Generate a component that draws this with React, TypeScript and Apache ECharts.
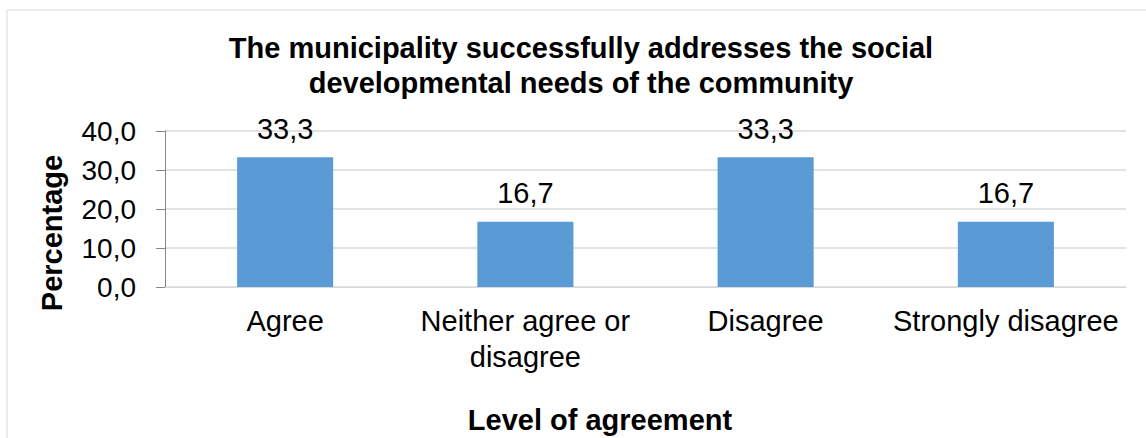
import React, { useEffect, useRef } from "react";
import * as echarts from "echarts";

const categories = ["Agree", "Neither agree or\ndisagree", "Disagree", "Strongly disagree"];
const values = [33.3, 16.7, 33.3, 16.7];
const titleText = "The municipality successfully addresses the social\ndevelopmental needs of the community";
const yAxisTitle = "Percentage";
const xAxisTitle = "Level of agreement";

const FONT = "'Liberation Sans', Arial, sans-serif";
const fmt = (v: number) => v.toFixed(1).replace(".", ",");

export default function App() {
  const ref = useRef<HTMLDivElement>(null);
  useEffect(() => {
    document.body.style.margin = "0";
    const chart = echarts.init(ref.current!, null, { renderer: "svg" });
    chart.setOption({
      animation: false,
      backgroundColor: "#fff",
      grid: { left: 165, right: 20, top: 131, bottom: 151, containLabel: false },
      graphic: [
        {
          type: "rect",
          shape: { x: 7, y: 10, width: 1160, height: 460 },
          style: { fill: "none", stroke: "#d9d9d9", lineWidth: 1 },
          silent: true,
        },
        {
          type: "text",
          x: 581,
          y: 30,
          style: {
            text: titleText,
            font: `bold 29px ${FONT}`,
            fill: "#000",
            align: "center",
            verticalAlign: "top",
            lineHeight: 35,
          },
        },
        {
          type: "text",
          x: 52,
          y: 233,
          rotation: Math.PI / 2,
          style: {
            text: yAxisTitle,
            font: `bold 29px ${FONT}`,
            fill: "#000",
            align: "center",
            verticalAlign: "middle",
          },
        },
        {
          type: "text",
          x: 600,
          y: 405,
          style: {
            text: xAxisTitle,
            font: `bold 29px ${FONT}`,
            fill: "#000",
            align: "center",
            verticalAlign: "top",
          },
        },
      ],
      xAxis: {
        type: "category",
        data: categories,
        axisLine: { show: true, lineStyle: { color: "#d9d9d9", width: 1 } },
        axisTick: { show: false },
        axisLabel: {
          color: "#000",
          fontFamily: FONT,
          fontSize: 29,
          lineHeight: 36,
          margin: 16,
          interval: 0,
        },
      },
      yAxis: {
        type: "value",
        min: 0,
        max: 40,
        interval: 10,
        axisLine: { show: true, lineStyle: { color: "#868686", width: 1 } },
        axisTick: { show: true, inside: false, length: 9, lineStyle: { color: "#868686" } },
        splitLine: { show: true, lineStyle: { color: "#d9d9d9", width: 1.5 } },
        axisLabel: {
          color: "#000",
          fontFamily: FONT,
          fontSize: 28,
          margin: 29,
          formatter: (v: number) => fmt(v),
        },
      },
      series: [
        {
          type: "bar",
          data: values,
          barWidth: "40%",
          itemStyle: { color: "#5b9bd5" },
          label: {
            show: true,
            position: "top",
            distance: 14,
            color: "#000",
            fontFamily: FONT,
            fontSize: 29,
            lineHeight: 29,
            formatter: (p: any) => fmt(p.value),
          },
        },
      ],
    });
    return () => chart.dispose();
  }, []);
  return <div ref={ref} style={{ width: 1146, height: 438 }} />;
}
